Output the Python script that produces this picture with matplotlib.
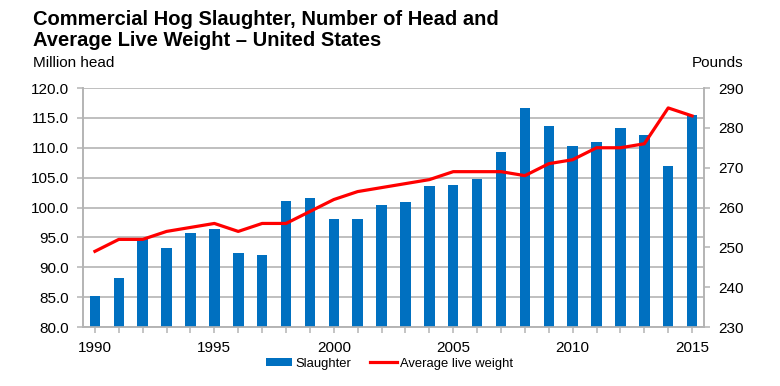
import matplotlib.pyplot as plt
import numpy as np

# data
years = list(range(1990, 2016))
slaughter = [85.2, 88.2, 94.8, 93.2, 95.7, 96.4, 92.4, 92.0, 101.1, 101.6,
             98.1, 98.1, 100.4, 100.9, 103.6, 103.7, 104.8, 109.3, 116.6, 113.6,
             110.3, 110.9, 113.3, 112.1, 106.9, 115.4]
live_weight = [249, 252, 252, 254, 255, 256, 254, 256, 256, 259,
               262, 264, 265, 266, 267, 269, 269, 269, 268, 271,
               272, 275, 275, 276, 285, 283]
left_ticks = [80, 85, 90, 95, 100, 105, 110, 115, 120]
right_ticks = [230, 240, 250, 260, 270, 280, 290]

BAR_COLOR = "#0070C0"
LINE_COLOR = "#FF0000"
GRID_COLOR = "#B4B4B4"

plt.rcParams["font.family"] = ["Liberation Sans", "DejaVu Sans"]

fig = plt.figure(figsize=(7.8, 3.86), dpi=100)
ax = fig.add_axes([0.1064, 0.1528, 0.7962, 0.6192])
ax2 = ax.twinx()

x = np.arange(len(years))
ax.bar(x, slaughter, width=0.44, color=BAR_COLOR, zorder=3, label="Slaughter")
ax2.plot(x, live_weight, color=LINE_COLOR, lw=2.3, zorder=4,
         label="Average live weight")

ax.set_xlim(-0.5, len(years) - 0.5)
ax.set_ylim(80, 120)
ax2.set_ylim(230, 290)

ax.set_yticks(left_ticks)
ax.set_yticklabels([f"{v:.1f}" for v in left_ticks])
ax2.set_yticks(right_ticks)
ax.set_xticks(x)
ax.set_xticklabels([str(y) if y % 5 == 0 else "" for y in years])

ax.grid(axis="y", color=GRID_COLOR, lw=1.2, zorder=0)
ax.set_axisbelow(True)

for a in (ax, ax2):
    a.spines["top"].set_visible(False)
    for s in ("left", "right", "bottom"):
        a.spines[s].set_color(GRID_COLOR)
        a.spines[s].set_linewidth(1.2)
    a.tick_params(colors=GRID_COLOR, labelcolor="black", labelsize=11,
                  length=4, width=1.1, pad=6)

fig.text(0.042, 1 - 25 / 386, "Commercial Hog Slaughter, Number of Head and",
         fontsize=14.5, fontweight="bold", va="baseline", ha="left")
fig.text(0.042, 1 - 46 / 386, "Average Live Weight \u2013 United States",
         fontsize=14.5, fontweight="bold", va="baseline", ha="left")
fig.text(0.042, 1 - 67 / 386, "Million head", fontsize=11,
         va="baseline", ha="left")
fig.text(743 / 780, 1 - 67 / 386, "Pounds", fontsize=11,
         va="baseline", ha="right")

h1, l1 = ax.get_legend_handles_labels()
h2, l2 = ax2.get_legend_handles_labels()
fig.legend(h1 + h2, l1 + l2, loc="center", bbox_to_anchor=(0.499, 0.058),
           ncol=2, frameon=False, fontsize=9.4, handlelength=2.0,
           handleheight=0.5, handletextpad=0.25, columnspacing=1.5)

fig.savefig("out.png", dpi=100)
